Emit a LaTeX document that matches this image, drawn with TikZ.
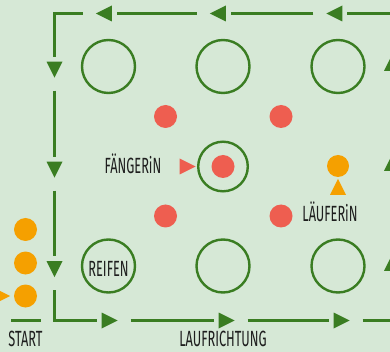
\documentclass[tikz,border=0pt]{standalone}
\usepackage{fontspec}
\usetikzlibrary{shapes.geometric}
\newfontfamily\handfont[FakeStretch=0.58]{Fira Sans}
\definecolor{bg}{RGB}{214,232,214}
\definecolor{grn}{RGB}{58,125,34}
\definecolor{rd}{RGB}{238,94,80}
\definecolor{org}{RGB}{245,160,0}
\definecolor{ink}{RGB}{30,30,30}
\begin{document}
\begin{tikzpicture}[x=1pt,y=-1pt,
  hoop/.style={circle,draw=grn,line width=2.4pt,minimum size=53pt,inner sep=0pt},
  reddot/.style={circle,fill=rd,minimum size=23pt,inner sep=0pt},
  orgdot/.style={circle,fill=org,minimum size=22pt,inner sep=0pt},
  tri/.style={isosceles triangle,isosceles triangle stretches,minimum width=16pt,minimum height=16pt,inner sep=0pt,outer sep=0pt},
  gtri/.style={tri,fill=grn,outer sep=5pt},
  lbl/.style={font=\handfont\fontsize{22}{22}\selectfont,text=ink,inner sep=0pt,anchor=base},
  track/.style={draw=grn,line width=2.4pt,line join=miter,line cap=butt}]
\fill[bg] (0,0) rectangle (390,352);
\useasboundingbox (0,0) rectangle (390,352);
% corners
\coordinate (TL) at (54.5,13.5);
\coordinate (BL) at (54.5,320.5);
\coordinate (BR) at (394,320.5);
\coordinate (TR) at (394,13.5);
% arrows on the track
\node[gtri,shape border rotate=180] (t1) at (107,13.5) {};
\node[gtri,shape border rotate=180] (t2) at (221,13.5) {};
\node[gtri,shape border rotate=180] (t3) at (337.5,13.5) {};
\node[gtri,shape border rotate=270] (l1) at (54.5,66.5) {};
\node[gtri,shape border rotate=270] (l2) at (54.5,166.5) {};
\node[gtri,shape border rotate=270] (l3) at (54.5,266) {};
\node[gtri] (b1) at (106.5,320.5) {};
\node[gtri] (b2) at (223.5,320.5) {};
\node[gtri] (b3) at (338.5,320.5) {};
\node[gtri,shape border rotate=90] (r1) at (392,66) {};
\node[gtri,shape border rotate=90] (r2) at (392,166) {};
\node[gtri,shape border rotate=90] (r3) at (392,266) {};
\draw[track] (t1) -- (TL) -- (l1);
\draw[track] (l1) -- (l2);
\draw[track] (l2) -- (l3);
\draw[track] (l3) -- (BL) -- (b1);
\draw[track] (b1) -- (b2);
\draw[track] (b2) -- (b3);
\draw[track] (b3) -- (BR);
\draw[track] (t2) -- (t1);
\draw[track] (t3) -- (t2);
\draw[track] (TR) -- (t3);
% start line
\coordinate (S1) at (11,320.5);
\coordinate (S2) at (41,320.5);
\draw[track] (S1) -- (S2);
% hoops
\node[hoop] (h11) at (108.5,66.5) {};
\node[hoop] (h12) at (223,66.5) {};
\node[hoop] (h13) at (338,66.5) {};
\node[hoop,minimum size=49.6pt] (h22) at (223,166.5) {};
\node[hoop] (h31) at (108.5,266) {};
\node[hoop] (h32) at (223,266) {};
\node[hoop] (h33) at (338,266) {};
\node[lbl] (reifen) at (108.5,276) {REIFEN};
% catchers
\node[reddot] (c1) at (165.5,116.5) {};
\node[reddot] (c2) at (281,116.5) {};
\node[reddot] (c3) at (165.5,216) {};
\node[reddot] (c4) at (281,216) {};
\node[reddot] (c5) at (223,166.5) {};
\node[tri,fill=rd] (ctri) at (184.5,166.5) {};
\node[lbl] (fang) at (133,174) {FÄNGERiN};
% runners
\node[orgdot] (o1) at (338,166) {};
\node[tri,fill=org,shape border rotate=90] (otri) at (338,190) {};
\node[lbl] (lauf) at (330,222) {LÄUFERiN};
\node[orgdot,minimum size=23pt] (s1) at (25.5,229.5) {};
\node[orgdot,minimum size=23pt] (s2) at (25.5,263) {};
\node[orgdot,minimum size=23pt] (s3) at (25.5,296) {};
\node[tri,fill=org] (stri) at (-1,296) {};
% bottom labels
\node[lbl] (start) at (25.5,346.5) {START};
\node[lbl] (richt) at (223,346.5) {LAUFRICHTUNG};
\end{tikzpicture}
\end{document}
